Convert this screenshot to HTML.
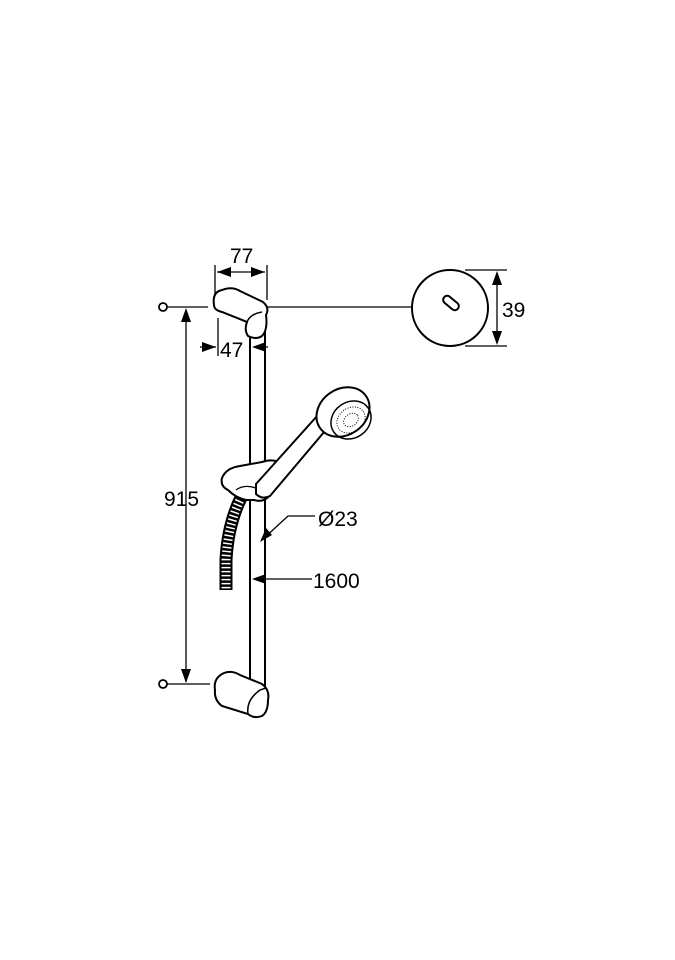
<!DOCTYPE html>
<html><head><style>
html,body{margin:0;padding:0;background:#fff;}
svg{display:block}
text{font-family:"Liberation Sans",sans-serif;font-size:21px;fill:#000}
</style></head><body>
<svg width="675" height="960" viewBox="0 0 675 960" xmlns="http://www.w3.org/2000/svg">
<g stroke="#000" fill="none" stroke-width="1.3">
<circle cx="163" cy="307" r="4" stroke-width="1.8"/>
<line x1="167" y1="307" x2="208" y2="307"/>
<circle cx="163" cy="684" r="4" stroke-width="1.8"/>
<line x1="167" y1="684" x2="210" y2="684"/>
<line x1="186" y1="310" x2="186" y2="682"/>
<line x1="222" y1="307" x2="412" y2="307"/>
<line x1="215" y1="265" x2="215" y2="298"/>
<line x1="267" y1="265" x2="267" y2="300"/>
<line x1="217" y1="272" x2="265" y2="272"/>
<line x1="218" y1="318" x2="218" y2="356"/>
<line x1="250" y1="338" x2="250" y2="356"/>
<line x1="200" y1="347" x2="216" y2="347"/>
<line x1="254" y1="347" x2="268" y2="347"/>
<line x1="250" y1="335" x2="250" y2="690" stroke-width="2"/>
<line x1="265" y1="330" x2="265" y2="688" stroke-width="2"/>
<path d="M214 305 Q212 292 222 290 Q232 286 240 291 L263 302 Q270 308 266 315 Q268 330 262 336 Q256 340 248 336 Q244 330 247 322 L222 312 Q214 310 214 305 Z" stroke-width="2" fill="#fff"/>
<path d="M247 322 Q250 314 262 312" stroke-width="1.5"/>
<path d="M215 690 Q213 678 224 673 Q232 670 240 675 L262 684 Q270 690 268 700 Q268 712 262 716 Q254 719 248 714 L222 706 Q214 700 215 690 Z" stroke-width="2" fill="#fff"/>
<path d="M248 714 Q246 700 260 690 L266 688" stroke-width="1.5"/>
<path d="M245 490 Q228 520 226 560 L226 590" stroke-width="13" stroke="#000"/>
<path d="M245 490 Q228 520 226 560 L226 590" stroke-width="9" stroke="#fff" stroke-dasharray="1.5 2.5"/>
<path d="M222 478 Q226 468 240 466 L262 462 Q274 458 282 464 L284 470 L272 480 L270 495 Q264 503 254 500 L246 500 Q236 498 228 490 Q220 486 222 478 Z" stroke-width="2" fill="#fff"/>
<path d="M236 490 Q244 484 256 488 L262 494" stroke-width="1.3"/>
<path d="M256 484 L318 415 L330 425 L270 496 Q262 500 256 494 Z" stroke-width="2" fill="#fff"/>
<ellipse cx="343" cy="412" rx="28" ry="23" transform="rotate(-35 343 412)" stroke-width="2" fill="#fff"/>
<ellipse cx="351" cy="420" rx="21" ry="18" transform="rotate(-35 351 420)" stroke-width="1.5"/>
<ellipse cx="351" cy="420" rx="15" ry="12" transform="rotate(-35 351 420)" stroke-width="1" stroke-dasharray="1 1.5"/>
<ellipse cx="351" cy="420" rx="8" ry="6" transform="rotate(-35 351 420)" stroke-width="1" stroke-dasharray="1 1.5"/>
<polyline points="315,516 288,516 262,540"/>
<line x1="255" y1="579" x2="312" y2="579"/>
<circle cx="450" cy="308" r="38" stroke-width="2"/>
<line x1="465" y1="270" x2="507" y2="270"/>
<line x1="465" y1="346" x2="507" y2="346"/>
<line x1="497" y1="274" x2="497" y2="342"/>
</g>
<g fill="#000">
<rect x="442" y="299" width="18" height="8" rx="4" transform="rotate(40 451 303)" fill="none" stroke="#000" stroke-width="2"/>
<polygon points="186,308 181,322 191,322"/>
<polygon points="186,683 181,669 191,669"/>
<polygon points="217,272 231,267 231,277"/>
<polygon points="265,272 251,267 251,277"/>
<polygon points="216,347 202,342 202,352"/>
<polygon points="252,347 266,342 266,352"/>
<polygon points="497,271 492,285 502,285"/>
<polygon points="497,345 492,331 502,331"/>
<polygon points="260,542 266,528 272,535"/>
<polygon points="252,579 266,574 266,584"/>
</g>
<text x="230" y="263">77</text>
<text x="220" y="357">47</text>
<text x="502" y="317">39</text>
<text x="164" y="506">915</text>
<text x="318" y="526">Ø23</text>
<text x="313" y="588">1600</text>
</svg>
</body></html>
